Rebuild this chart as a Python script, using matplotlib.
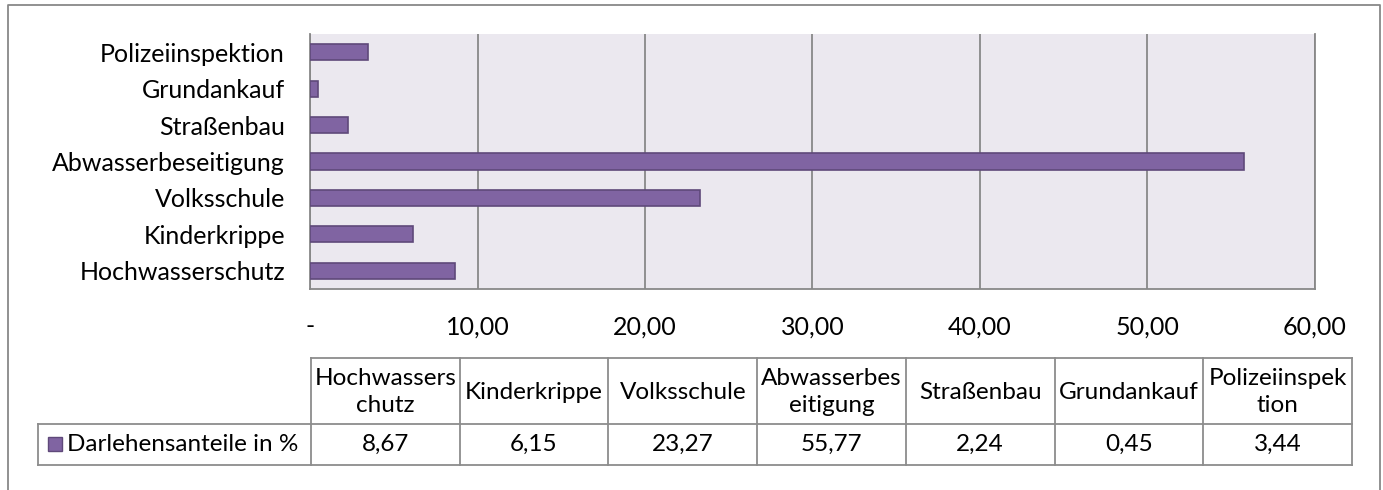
import matplotlib
matplotlib.use("Agg")
import matplotlib.pyplot as plt
from matplotlib.patches import Rectangle

plt.rcParams['font.family'] = ['Lato', 'DejaVu Sans']

categories = ["Hochwasserschutz", "Kinderkrippe", "Volksschule", "Abwasserbeseitigung",
              "Straßenbau", "Grundankauf", "Polizeiinspektion"]
table_headers = ["Hochwassers\nchutz", "Kinderkrippe", "Volksschule", "Abwasserbes\neitigung",
                 "Straßenbau", "Grundankauf", "Polizeiinspek\ntion"]
values = [8.67, 6.15, 23.27, 55.77, 2.24, 0.45, 3.44]
series_name = "Darlehensanteile in %"
xticks = [0, 10, 20, 30, 40, 50, 60]
xtick_labels = ["-", "10,00", "20,00", "30,00", "40,00", "50,00", "60,00"]

W, H = 1383, 490
fig = plt.figure(figsize=(W / 100, H / 100), dpi=100)
fig.patch.set_facecolor("white")

BAR = "#8064A2"
EDGE = "#5F497A"
GRID = "#888888"
FS = 18
TFS = 17.5

# overlay axes in pixel coordinates for frame and table
ov = fig.add_axes([0, 0, 1, 1])
ov.set_xlim(0, W)
ov.set_ylim(H, 0)
ov.axis("off")
ov.patch.set_alpha(0)

# outer frame
ov.plot([8, 8, 1380, 1380], [H + 5, 5, 5, H + 5], color=GRID, lw=1.3, clip_on=False)

# main chart
ax = fig.add_axes([310 / W, 1 - 289 / H, (1315 - 310) / W, (289 - 34) / H])
ax.set_facecolor("#EBE8EF")
ypos = list(range(len(categories)))
ax.barh(ypos, values, height=0.44, color=BAR, edgecolor=EDGE, linewidth=1.2, zorder=3)
ax.set_xlim(0, 60)
ax.set_ylim(-0.5, len(categories) - 0.5)
ax.set_yticks(ypos)
ax.set_yticklabels(categories, fontsize=FS)
ax.set_xticks(xticks)
ax.set_xticklabels(xtick_labels, fontsize=FS)
ax.tick_params(axis="both", length=0)
ax.tick_params(axis="y", pad=18)
ax.tick_params(axis="x", pad=19)
ax.xaxis.grid(True, color=GRID, lw=1.3, zorder=1)
ax.set_axisbelow(True)
for s in ["left", "bottom", "right"]:
    ax.spines[s].set_color(GRID)
    ax.spines[s].set_linewidth(1.3)
ax.spines["top"].set_visible(False)

# data table
col_edges = [311 + i * 148.7 for i in range(len(categories) + 1)]
y_top, y_mid, y_bot = 358, 424, 465
leg_left = 38
tcol = "#8c8c8c"
lw = 1.3
ov.plot([col_edges[0], col_edges[-1]], [y_top, y_top], color=tcol, lw=lw)
ov.plot([leg_left, col_edges[-1]], [y_mid, y_mid], color=tcol, lw=lw)
ov.plot([leg_left, col_edges[-1]], [y_bot, y_bot], color=tcol, lw=lw)
ov.plot([leg_left, leg_left], [y_mid, y_bot], color=tcol, lw=lw)
for x in col_edges:
    ov.plot([x, x], [y_top, y_bot], color=tcol, lw=lw)
for i, (hdr, v) in enumerate(zip(table_headers, values)):
    cx = (col_edges[i] + col_edges[i + 1]) / 2
    ov.text(cx, (y_top + y_mid) / 2 + 1, hdr, ha="center", va="center", fontsize=TFS,
            linespacing=1.3)
    ov.text(cx, (y_mid + y_bot) / 2, f"{v:.2f}".replace(".", ","), ha="center", va="center",
            fontsize=TFS)
# legend key
ov.add_patch(Rectangle((48, 437), 14, 14, facecolor=BAR, edgecolor=EDGE, lw=1))
ov.text(67, (y_mid + y_bot) / 2, series_name, ha="left", va="center", fontsize=TFS)

fig.savefig("out.png", dpi=100)
